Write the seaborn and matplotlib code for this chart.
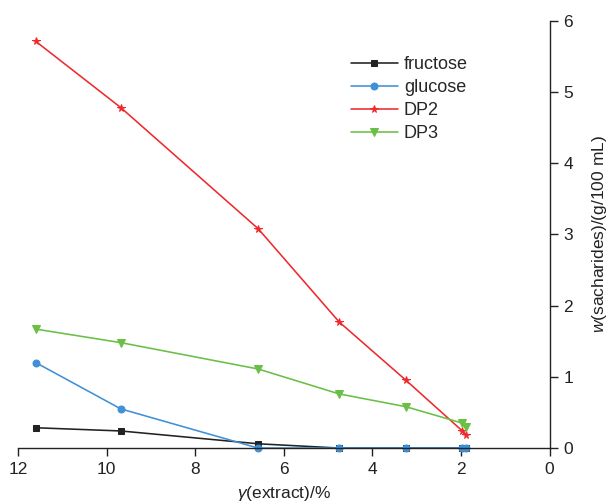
import matplotlib
matplotlib.use("Agg")
import matplotlib.pyplot as plt
import seaborn as sns
import pandas as pd

extract = [11.6, 9.68, 6.58, 4.75, 3.24, 1.97, 1.89]
fructose = [0.285, 0.24, 0.06, 0.0, 0.0, 0.0, 0.0]
glucose = [1.20, 0.55, 0.0, 0.0, 0.0, 0.0, 0.0]
dp2 = [5.71, 4.78, 3.08, 1.77, 0.95, 0.24, 0.19]
dp3 = [1.67, 1.48, 1.11, 0.76, 0.58, 0.35, 0.29]

series_names = ["fructose", "glucose", "DP2", "DP3"]
series_vals = [fructose, glucose, dp2, dp3]
colors = ["#222222", "#3f90d6", "#ee2a2e", "#6abf45"]
markers = ["s", "o", "*", "v"]
msizes = [4.5, 5, 5.5, 5.5]

sns.set_style("ticks")
plt.rcParams['font.family'] = ['Liberation Sans', 'DejaVu Sans']
plt.rcParams['mathtext.fontset'] = 'custom'
plt.rcParams['mathtext.it'] = 'Liberation Sans:italic'
plt.rcParams['mathtext.rm'] = 'Liberation Sans'

fig = plt.figure(figsize=(6.08, 5.04), dpi=100)
ax = fig.add_axes([0.0296, 0.111, 0.8744, 0.848])

for name, vals, c, m, ms in zip(series_names, series_vals, colors, markers, msizes):
    df = pd.DataFrame({"x": extract, "y": vals})
    sns.lineplot(data=df, x="x", y="y", ax=ax, color=c, marker=m, markersize=ms,
                 markeredgecolor=c, linewidth=1.15, label=name, sort=False,
                 estimator=None, clip_on=False)

ax.set_xlim(12, 0)
ax.set_ylim(0, 6)
ax.set_xticks([12, 10, 8, 6, 4, 2, 0])
ax.set_yticks([0, 1, 2, 3, 4, 5, 6])
ax.spines['left'].set_visible(False)
ax.spines['top'].set_visible(False)
ax.spines['right'].set_visible(True)
for s in ['right', 'bottom']:
    ax.spines[s].set_color('#222222')
    ax.spines[s].set_linewidth(1.0)
ax.yaxis.tick_right()
ax.yaxis.set_label_position('right')
ax.tick_params(axis='both', direction='out', length=6, width=1.0,
               labelsize=12.5, colors='#222222', pad=4)

ax.set_xlabel(r"$\it{γ}$(extract)/%", fontsize=12.5, color='#222222', labelpad=5)
ax.set_ylabel(r"$\it{w}$(sacharides)/(g/100 mL)", fontsize=12.5, color='#222222', labelpad=12)

leg = ax.legend(loc='upper left', bbox_to_anchor=(0.595, 0.955), frameon=False,
                fontsize=13, handlelength=2.6, labelspacing=0.33, handletextpad=0.35)

fig.savefig("out.png", dpi=100)
